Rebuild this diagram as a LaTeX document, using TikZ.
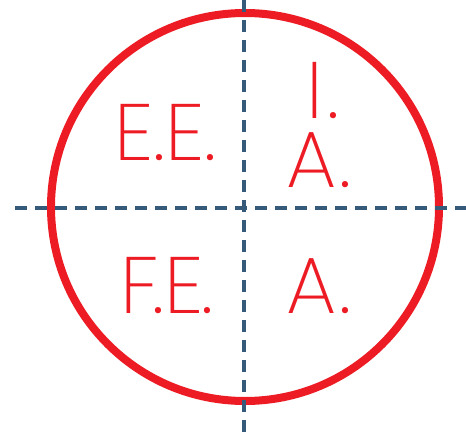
\documentclass[tikz,border=0pt]{standalone}
\usepackage{fontspec}
\newfontfamily\thinfont{Poppins ExtraLight}
\definecolor{ringred}{HTML}{ED1C24}
\definecolor{axisblue}{HTML}{365A7A}
\begin{document}
\begin{tikzpicture}[x=1pt,y=-1pt,
  axis/.style={axisblue,line width=4pt,dash pattern=on 12pt off 8pt},
  lbl/.style={anchor=base west,inner sep=0pt,text=ringred,text height=57pt,text depth=0pt,font=\thinfont\fontsize{80}{80}\selectfont}]
\useasboundingbox (0,0) rectangle (466,439);
\node[draw=ringred,line width=8pt,circle,minimum size=388pt,inner sep=0pt] (ring) at (245,207) {};
\coordinate (vt) at (243.5,0);
\coordinate (vb) at (243.5,439);
\coordinate (hl) at (15,208);
\coordinate (hr) at (466,208);
\draw[axis] (vt) -- (vb);
\draw[axis] (hl) -- (hr);
\node[lbl] (ee) at (114,160) {E.E.};
\node[lbl] (ii) at (306,118) {I\kern4pt.};
\node[lbl] (a1) at (286,187) {A\kern3pt.};
\node[lbl] (fe) at (120,313) {F\kern-6pt.E\kern-2pt.};
\node[lbl] (a2) at (286,313) {A\kern3pt.};
\end{tikzpicture}
\end{document}
